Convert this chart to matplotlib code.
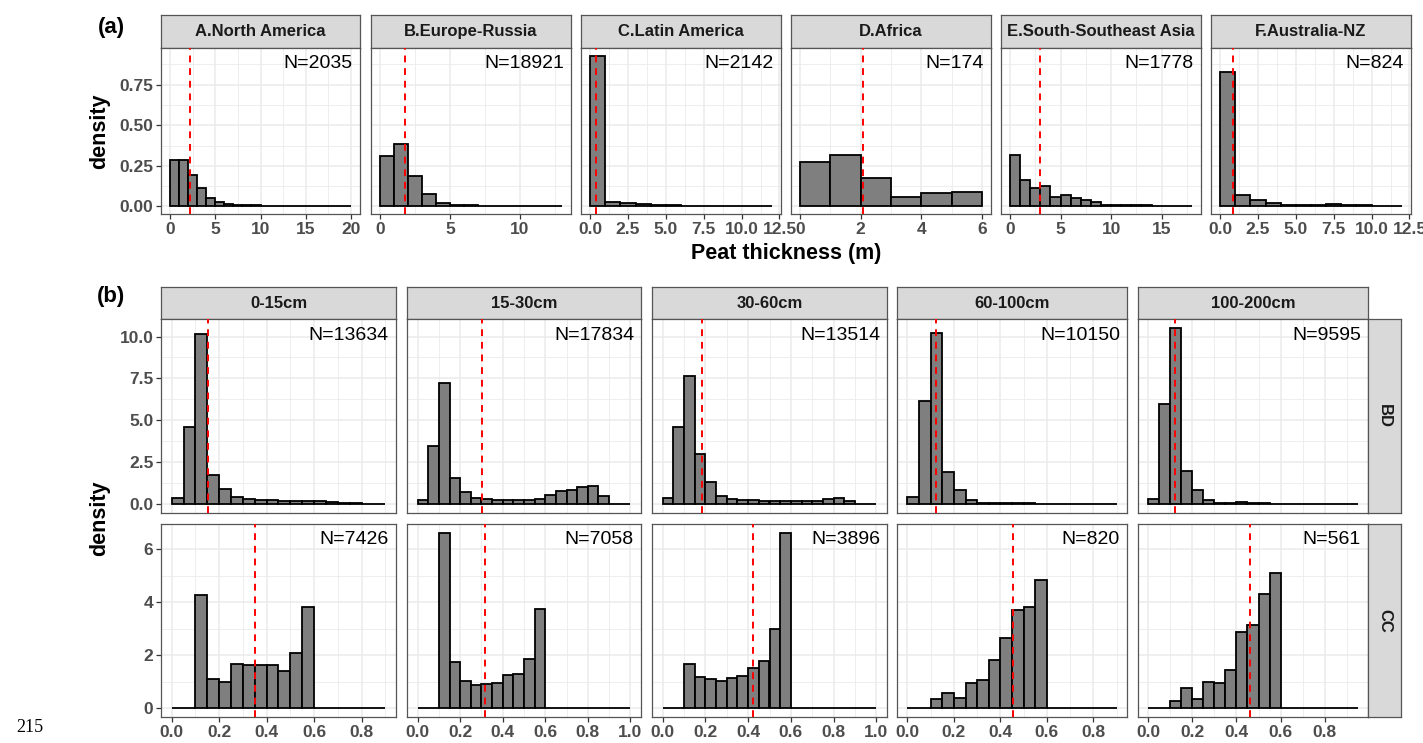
import numpy as np
import matplotlib
matplotlib.use('Agg')
import matplotlib.pyplot as plt
from matplotlib.ticker import FixedLocator

plt.rcParams['font.family'] = ['Liberation Sans', 'DejaVu Sans']

# ---------------- data: (a) peat thickness by region, bin width 1 m ----------------
regions = ["A.North America", "B.Europe-Russia", "C.Latin America",
           "D.Africa", "E.South-Southeast Asia", "F.Australia-NZ"]
region_n = [2035, 18921, 2142, 174, 1778, 824]
region_mean = [2.2, 1.75, 0.4, 2.07, 2.92, 0.82]
dens_na = [0.289, 0.289, 0.191, 0.112, 0.051, 0.030, 0.018, 0.012, 0.008, 0.006,
           0.004, 0.003, 0.003, 0.002, 0.002, 0.002, 0.001, 0.001, 0.001, 0.001]
dens_eu = [0.309, 0.382, 0.189, 0.075, 0.024, 0.012, 0.008, 0.004, 0.003, 0.002,
           0.002, 0.001, 0.001]
dens_la = [0.93, 0.030, 0.022, 0.018, 0.008, 0.008, 0.003, 0.002, 0.002, 0.002,
           0.001, 0.001]
dens_af = [0.274, 0.315, 0.175, 0.061, 0.081, 0.087]
dens_as = [0.319, 0.165, 0.114, 0.124, 0.059, 0.069, 0.053, 0.039, 0.028, 0.012,
           0.012, 0.010, 0.006, 0.008, 0.003, 0.002, 0.002, 0.001]
dens_au = [0.827, 0.071, 0.037, 0.020, 0.008, 0.012, 0.008, 0.018, 0.008, 0.006,
           0.003, 0.003]
region_dens = [dens_na, dens_eu, dens_la, dens_af, dens_as, dens_au]
region_xticks = [[0, 5, 10, 15, 20], [0, 5, 10], [0, 2.5, 5, 7.5, 10, 12.5],
                 [0, 2, 4, 6], [0, 5, 10, 15], [0, 2.5, 5, 7.5, 10, 12.5]]
region_xlabels = [["0", "5", "10", "15", "20"], ["0", "5", "10"],
                  ["0.0", "2.5", "5.0", "7.5", "10.0", "12.5"],
                  ["0", "2", "4", "6"], ["0", "5", "10", "15"],
                  ["0.0", "2.5", "5.0", "7.5", "10.0", "12.5"]]

# ---------------- data: (b) BD and CC by depth, bin width 0.05 ----------------
depths = ["0-15cm", "15-30cm", "30-60cm", "60-100cm", "100-200cm"]
bd_n = [13634, 17834, 13514, 10150, 9595]
cc_n = [7426, 7058, 3896, 820, 561]
bd_mean = [0.154, 0.304, 0.185, 0.123, 0.121]
cc_mean = [0.352, 0.319, 0.423, 0.456, 0.461]
bd_0_15 = [0.36, 4.61, 10.16, 1.73, 0.91, 0.44, 0.28, 0.22, 0.24, 0.18, 0.18, 0.18,
           0.20, 0.12, 0.08, 0.05, 0.03, 0.03]
bd_15_30 = [0.26, 3.48, 7.22, 1.55, 0.74, 0.38, 0.30, 0.22, 0.24, 0.22, 0.22, 0.28,
            0.54, 0.80, 0.85, 1.05, 1.11, 0.50, 0.02, 0.02]
bd_30_60 = [0.34, 4.63, 7.67, 2.98, 1.35, 0.46, 0.30, 0.24, 0.22, 0.18, 0.18, 0.18,
            0.18, 0.20, 0.20, 0.28, 0.34, 0.18, 0.04, 0.02]
bd_60_100 = [0.44, 6.16, 10.24, 1.89, 0.82, 0.26, 0.10, 0.08, 0.10, 0.06, 0.05, 0.04,
             0.04, 0.03, 0.03, 0.02, 0.02, 0.02]
bd_100_200 = [0.30, 5.98, 10.52, 1.95, 0.82, 0.26, 0.10, 0.10, 0.14, 0.06, 0.05, 0.04,
              0.04, 0.03, 0.03, 0.02, 0.02, 0.02, 0.02]
cc_0_15 = [0.0, 0.01, 4.27, 1.11, 0.98, 1.68, 1.62, 1.62, 1.62, 1.41, 2.07, 3.80,
           0.0, 0.0, 0.0, 0.0, 0.0, 0.0]
cc_15_30 = [0.0, 0.01, 6.61, 1.73, 1.01, 0.88, 0.90, 0.96, 1.26, 1.28, 1.84, 3.73,
            0.0, 0.0, 0.0, 0.0, 0.0, 0.0, 0.0, 0.0]
cc_30_60 = [0.0, 0.0, 1.68, 1.16, 1.11, 1.02, 1.15, 1.20, 1.51, 1.77, 2.99, 6.61,
            0.0, 0.0, 0.0, 0.0, 0.0, 0.0, 0.0, 0.0]
cc_60_100 = [0.0, 0.02, 0.36, 0.56, 0.39, 0.96, 1.07, 1.80, 2.65, 3.70, 3.83, 4.82,
             0.0, 0.0, 0.0, 0.0, 0.0, 0.0]
cc_100_200 = [0.0, 0.0, 0.26, 0.76, 0.36, 0.98, 0.96, 1.44, 2.86, 3.15, 4.29, 5.09,
              0.0, 0.0, 0.0, 0.0, 0.0, 0.0, 0.0]
bd_dens = [bd_0_15, bd_15_30, bd_30_60, bd_60_100, bd_100_200]
cc_dens = [cc_0_15, cc_15_30, cc_30_60, cc_60_100, cc_100_200]
depth_xticks = [[0, 0.2, 0.4, 0.6, 0.8], [0, 0.2, 0.4, 0.6, 0.8, 1.0],
                [0, 0.2, 0.4, 0.6, 0.8, 1.0], [0, 0.2, 0.4, 0.6, 0.8],
                [0, 0.2, 0.4, 0.6, 0.8]]

W, H = 1423, 743
GRID = '#EBEBEB'
BORDER = '#555555'
TICKC = '#4D4D4D'


def px_axes(fig, x0, y0, x1, y1):
    return fig.add_axes([x0 / W, 1 - y1 / H, (x1 - x0) / W, (y1 - y0) / H])


def strip(fig, x0, y0, x1, y1, text, rot=0):
    s = px_axes(fig, x0, y0, x1, y1)
    s.set_facecolor('#D9D9D9')
    s.set_xticks([])
    s.set_yticks([])
    for sp in s.spines.values():
        sp.set_color(BORDER)
        sp.set_linewidth(0.9)
    s.text(0.5, 0.5, text, ha='center', va='center', rotation=rot,
           fontsize=12, fontweight='bold', color='#1A1A1A', transform=s.transAxes)


def panel(ax, heights, bw, mean, n, xticks, xlim, yticks, ylim):
    x = np.arange(len(heights)) * bw
    ax.bar(x, heights, width=bw, align='edge', color='#7f7f7f',
           edgecolor='black', linewidth=1.3, zorder=3)
    ax.axvline(mean, color='red', ls=(0, (3.5, 3)), lw=1.4, zorder=4)
    ax.set_xlim(xlim)
    ax.set_ylim(ylim)
    ax.xaxis.set_major_locator(FixedLocator(xticks))
    ax.yaxis.set_major_locator(FixedLocator(yticks))
    dx = xticks[1] - xticks[0]
    dy = yticks[1] - yticks[0]
    ax.xaxis.set_minor_locator(FixedLocator([t + dx / 2 for t in [xticks[0] - dx] + list(xticks)]))
    ax.yaxis.set_minor_locator(FixedLocator([t + dy / 2 for t in [yticks[0] - dy] + list(yticks)]))
    ax.grid(which='major', color=GRID, lw=1.1, zorder=0)
    ax.grid(which='minor', color=GRID, lw=0.6, zorder=0)
    ax.set_axisbelow(True)
    ax.tick_params(which='minor', length=0)
    ax.tick_params(which='major', direction='out', length=3.5, width=0.9,
                   color='#333333', labelcolor=TICKC, labelsize=12.5, pad=2)
    for sp in ax.spines.values():
        sp.set_color(BORDER)
        sp.set_linewidth(0.9)
    ax.annotate("N=%d" % n, xy=(1, 1), xycoords='axes fraction',
                xytext=(-7, -16), textcoords='offset pixels',
                ha='right', va='center', fontsize=14, color='black')


fig = plt.figure(figsize=(W / 100, H / 100), dpi=100)

# ---- (a) ----
top_x = [(161, 360), (371, 571), (581, 781), (791, 991), (1001, 1201), (1211, 1411)]
top_max = max(max(d) for d in region_dens)
top_ylim = (-0.05 * top_max, 1.05 * top_max)
for i, (x0, x1) in enumerate(top_x):
    strip(fig, x0, 15, x1, 48, regions[i])
    ax = px_axes(fig, x0, 48, x1, 214)
    r = len(region_dens[i]) * 1.0
    panel(ax, region_dens[i], 1.0, region_mean[i], region_n[i], region_xticks[i],
          (-0.05 * r, 1.05 * r), [0, 0.25, 0.5, 0.75], top_ylim)
    ax.set_xticklabels(region_xlabels[i], fontweight='bold')
    if i == 0:
        ax.set_yticklabels(["0.00", "0.25", "0.50", "0.75"], fontweight='bold')
    else:
        ax.tick_params(left=False, labelleft=False)

# ---- (b) ----
bot_x = [(161, 396), (407, 641), (652, 887), (897, 1127), (1138, 1368)]
bd_max = max(max(d) for d in bd_dens)
cc_max = max(max(d) for d in cc_dens)
for i, (x0, x1) in enumerate(bot_x):
    strip(fig, x0, 287, x1, 319, depths[i])
    r = len(bd_dens[i]) * 0.05
    xl = (-0.05 * r, 1.05 * r)
    ax1 = px_axes(fig, x0, 319, x1, 513)
    panel(ax1, bd_dens[i], 0.05, bd_mean[i], bd_n[i], depth_xticks[i], xl,
          [0, 2.5, 5, 7.5, 10], (-0.05 * bd_max, 1.05 * bd_max))
    ax1.tick_params(bottom=False, labelbottom=False)
    ax2 = px_axes(fig, x0, 524, x1, 717)
    panel(ax2, cc_dens[i], 0.05, cc_mean[i], cc_n[i], depth_xticks[i], xl,
          [0, 2, 4, 6], (-0.05 * cc_max, 1.05 * cc_max))
    ax2.set_xticklabels(["%.1f" % t for t in depth_xticks[i]], fontweight='bold')
    if i == 0:
        ax1.set_yticklabels(["0.0", "2.5", "5.0", "7.5", "10.0"], fontweight='bold')
        ax2.set_yticklabels(["0", "2", "4", "6"], fontweight='bold')
    else:
        ax1.tick_params(left=False, labelleft=False)
        ax2.tick_params(left=False, labelleft=False)

strip(fig, 1368, 319, 1401, 513, "BD", rot=-90)
strip(fig, 1368, 524, 1401, 717, "CC", rot=-90)

# ---- labels ----
fig.text(111 / W, 1 - 27 / H, "(a)", ha='center', va='center', fontsize=16, fontweight='bold')
fig.text(111 / W, 1 - 297 / H, "(b)", ha='center', va='center', fontsize=16, fontweight='bold')
fig.text(100 / W, 1 - 131 / H, "density", rotation=90, ha='center', va='center',
         fontsize=15.5, fontweight='bold')
fig.text(100 / W, 1 - 518 / H, "density", rotation=90, ha='center', va='center',
         fontsize=15.5, fontweight='bold')
fig.text(786 / W, 1 - 254 / H, "Peat thickness (m)", ha='center', va='center',
         fontsize=15.5, fontweight='bold')
fig.text(30 / W, 1 - 727 / H, "215", ha='center', va='center', fontsize=13,
         family=['Liberation Serif', 'DejaVu Serif'])

fig.savefig("out.png", dpi=100)
